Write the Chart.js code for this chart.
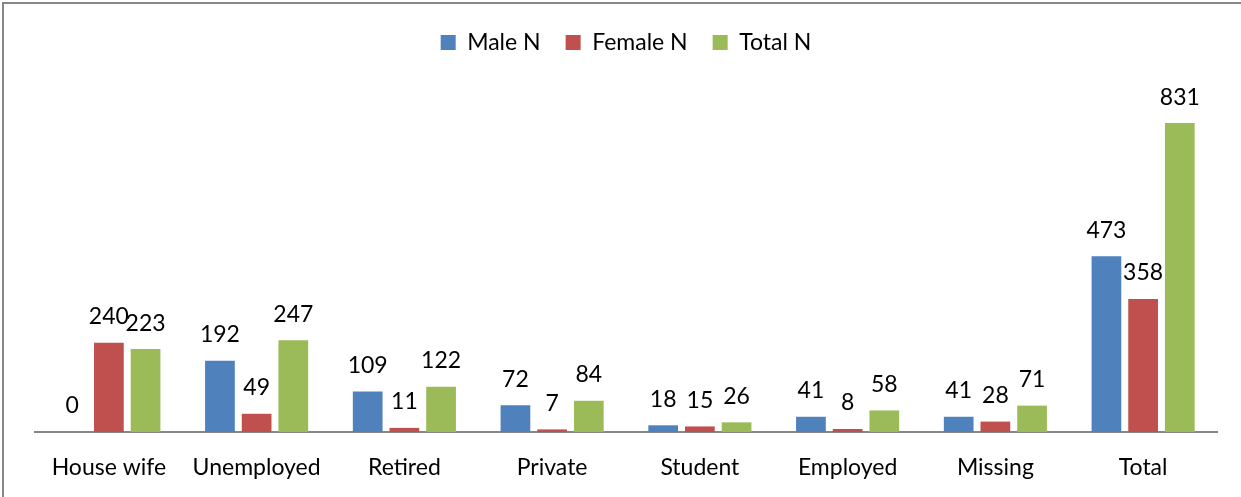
<!DOCTYPE html>
<html>
<head>
<meta charset="utf-8">
<script src="https://cdn.jsdelivr.net/npm/chart.js@4"></script>
<style>
  html, body { margin: 0; padding: 0; background: #fff; overflow: hidden; }
  #frame { position: absolute; left: 2px; top: 2px; width: 1260px; height: 520px;
           border-left: 2px solid #878787; border-top: 2px solid #878787; }
  #wrap { position: absolute; left: 0; top: 0; width: 1241px; height: 497px; }
</style>
</head>
<body>
<div id="frame"></div>
<div id="wrap"><canvas id="jobChart"></canvas></div>
<script>
const categories = ['House wife', 'Unemployed', 'Retired', 'Private', 'Student', 'Employed', 'Missing', 'Total'];
const maleN = [0, 192, 109, 72, 18, 41, 41, 473];
const femaleN = [240, 49, 11, 7, 15, 8, 28, 358];
const totalN = [223, 247, 122, 84, 26, 58, 71, 831];

const FONT = 'Lato, "Open Sans", sans-serif';

// draws the value above every bar
const barValues = {
    id: 'barValues',
    afterDatasetsDraw(chart) {
        const ctx = chart.ctx;
        ctx.save();
        ctx.font = '23px ' + FONT;
        ctx.fillStyle = '#000';
        ctx.textAlign = 'center';
        ctx.textBaseline = 'middle';
        chart.data.datasets.forEach(function (ds, i) {
            chart.getDatasetMeta(i).data.forEach(function (bar, j) {
                ctx.fillText(String(ds.data[j]), bar.x, bar.y - 26);
            });
        });
        ctx.restore();
    }
};

new Chart(document.getElementById('jobChart').getContext('2d'), {
    type: 'bar',
    data: {
        labels: categories,
        datasets: [
            { label: 'Male N', data: maleN, backgroundColor: '#4F81BD' },
            { label: 'Female N', data: femaleN, backgroundColor: '#C0504D' },
            { label: 'Total N', data: totalN, backgroundColor: '#9BBB59' }
        ]
    },
    options: {
        responsive: true,
        maintainAspectRatio: false,
        animation: false,
        categoryPercentage: 0.745,
        barPercentage: 0.81,
        layout: { padding: { left: 35, right: 24, top: 6, bottom: 0 } },
        plugins: {
            legend: {
                position: 'top',
                labels: {
                    boxWidth: 15,
                    boxHeight: 15,
                    padding: 25,
                    color: '#000',
                    font: { family: FONT, size: 23 }
                }
            },
            tooltip: { enabled: false }
        },
        scales: {
            x: {
                grid: { display: false, drawTicks: false },
                border: { display: true, color: '#878787', width: 2 },
                ticks: { color: '#000', padding: 22, font: { family: FONT, size: 23 } },
                afterFit: function (scale) { scale.height = 65; }
            },
            y: {
                display: false,
                min: 0,
                max: 990
            }
        }
    },
    plugins: [barValues]
});
</script>
</body>
</html>
